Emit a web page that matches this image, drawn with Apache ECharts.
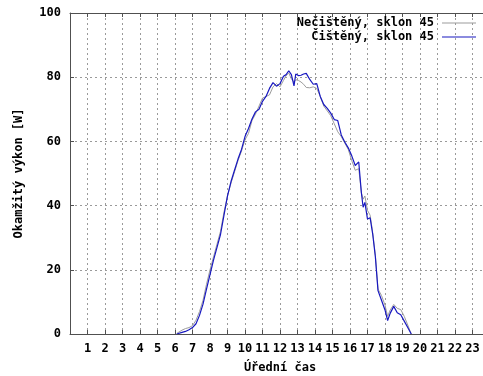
<!DOCTYPE html>
<html>
<head>
<meta charset="utf-8">
<script src="https://cdn.jsdelivr.net/npm/echarts@6/dist/echarts.min.js"></script>
<style>
html,body{margin:0;padding:0;background:#fff;overflow:hidden;}
#c{width:483px;height:376px;}
</style>
</head>
<body>
<div id="c"></div>
<script>
// Time of day (hours)
var hours = [6.1, 6.2, 6.4, 6.6, 6.8, 7.0, 7.2, 7.4, 7.6, 7.8, 8.0, 8.2, 8.4, 8.6, 8.8, 9.0, 9.2, 9.4, 9.6, 9.8,
  10.0, 10.2, 10.4, 10.6, 10.8, 11.0, 11.2, 11.4, 11.6, 11.8, 12.0, 12.2, 12.35, 12.5, 12.65, 12.8, 12.9, 13.05, 13.2, 13.35,
  13.5, 13.7, 13.9, 14.1, 14.3, 14.5, 14.7, 14.9, 15.1, 15.3, 15.5, 15.7, 15.9, 16.1, 16.3, 16.5, 16.65, 16.75, 16.85, 17.0,
  17.15, 17.3, 17.45, 17.6, 17.8, 18.0, 18.15, 18.3, 18.5, 18.7, 18.9, 19.1, 19.3, 19.5];
// Uncleaned panel, tilt 45
var dirtyValues = [0.2, 0.5, 1.2, 1.7, 2.0, 2.6, 4.3, 7.0, 10.5, 15.5, 20, 24, 28, 32, 38, 43, 47, 50.5, 54, 57,
  60.5, 62.5, 66.5, 68.5, 71, 73.5, 74, 74.5, 77, 78, 77, 79, 80.5, 81.3, 79.5, 78.5, 79.2, 79, 78.5, 77.8,
  76.8, 76.7, 77, 76.5, 74, 71, 69.5, 68, 65.5, 63, 61.5, 59.5, 57.5, 54, 51, 51.5, 44, 42, 43, 38.5,
  37, 31.5, 24.5, 14, 12, 9, 5.5, 7.5, 9.2, 8, 7.6, 5.5, 2.8, 0];
// Cleaned panel, tilt 45
var cleanValues = [0, 0.1, 0.5, 0.8, 1.3, 2.0, 3.2, 5.8, 9.3, 14, 18.5, 23, 27, 31, 37, 43, 47.5, 51, 54.5, 57.5,
  61.5, 64, 67, 69.2, 70, 72.5, 74, 76.5, 78.3, 77.2, 78, 80.3, 80.8, 82, 80.8, 77.3, 81, 80.5, 80.6, 81,
  81.2, 79.3, 77.8, 78, 74, 71.5, 70.3, 68.8, 66.8, 66.5, 62, 59.8, 58, 55.5, 52.5, 53.6, 44, 39.5, 41, 35.8,
  36.2, 31, 24, 13.5, 10.5, 7.5, 4.2, 6.5, 8.6, 6.6, 6, 4, 2, 0];
var seriesNames = ['Nečištěný, sklon 45', 'Čištěný, sklon 45'];
var xTickLabels = ['', '1', '2', '3', '4', '5', '6', '7', '8', '9', '10', '11', '12', '13', '14', '15', '16', '17', '18', '19', '20', '21', '22', '23', ''];
var yTickLabels = ['0', '20', '40', '60', '80', '100'];

function pairs(xs, ys) { return xs.map(function (x, i) { return [x, ys[i]]; }); }

var FONT = 'DejaVu Sans Mono';
var chart = echarts.init(document.getElementById('c'), null, { renderer: 'canvas' });
var gridLine = { show: true, lineStyle: { color: '#9a9a9a', width: 1, type: [2, 3] } };
var axisCol = '#505050';
chart.setOption({
  animation: false,
  backgroundColor: '#fff',
  grid: { left: 70, top: 13, width: 420, height: 321, show: false,
    containLabel: false, outerBoundsMode: 'none' },
  legend: [
    { data: [seriesNames[0]], right: 7, top: 17, orient: 'vertical', align: 'right', padding: 0,
      icon: 'rect', itemWidth: 34, itemHeight: 1,
      textStyle: { fontFamily: FONT, fontWeight: 'bold', fontSize: 12, color: '#000', padding: [0, 3, 0, 0] } },
    { data: [seriesNames[1]], right: 7, top: 31, orient: 'vertical', align: 'right', padding: 0,
      icon: 'rect', itemWidth: 34, itemHeight: 1,
      textStyle: { fontFamily: FONT, fontWeight: 'bold', fontSize: 12, color: '#000', padding: [0, 3, 0, 0] } }
  ],
  xAxis: [{
    type: 'value', min: 0, max: 24, interval: 1,
    name: 'Úřední čas', nameLocation: 'middle', nameGap: 28,
    nameTextStyle: { fontFamily: FONT, fontWeight: 'bold', fontSize: 12, color: '#000' },
    axisLine: { show: true, lineStyle: { color: axisCol } },
    axisTick: { show: true, inside: true, length: 4, lineStyle: { color: axisCol } },
    axisLabel: { margin: 9, fontFamily: FONT, fontWeight: 'bold', fontSize: 12, color: '#000',
      formatter: function (v) { return xTickLabels[Math.round(v)] || ''; } },
    splitLine: gridLine
  }, {
    type: 'value', min: 0, max: 24, interval: 1, position: 'top',
    axisLine: { show: true, lineStyle: { color: axisCol } },
    axisTick: { show: true, inside: true, length: 4, lineStyle: { color: axisCol } },
    axisLabel: { show: false }, splitLine: { show: false }
  }],
  yAxis: {
    type: 'value', min: 0, max: 100, interval: 20,
    name: 'Okamžitý výkon [W]', nameLocation: 'middle', nameGap: 45, nameRotate: 90,
    nameTextStyle: { fontFamily: FONT, fontWeight: 'bold', fontSize: 12, color: '#000' },
    axisLine: { show: true, lineStyle: { color: axisCol } },
    axisTick: { show: true, inside: true, length: 4, lineStyle: { color: axisCol } },
    axisLabel: { margin: 9, fontFamily: FONT, fontWeight: 'bold', fontSize: 12, color: '#000',
      formatter: function (v) { return yTickLabels[Math.round(v / 20)]; } },
    splitLine: gridLine
  },
  series: [
    { name: seriesNames[0], type: 'line', data: pairs(hours, dirtyValues), showSymbol: false, symbol: 'none',
      lineStyle: { color: '#9c9c9c', width: 1 }, itemStyle: { color: '#9c9c9c' }, z: 2 },
    { name: seriesNames[1], type: 'line', data: pairs(hours, cleanValues), showSymbol: false, symbol: 'none',
      lineStyle: { color: '#1818c0', width: 1.2 }, itemStyle: { color: '#1818c0' }, z: 3 }
  ]
});
</script>
</body>
</html>
